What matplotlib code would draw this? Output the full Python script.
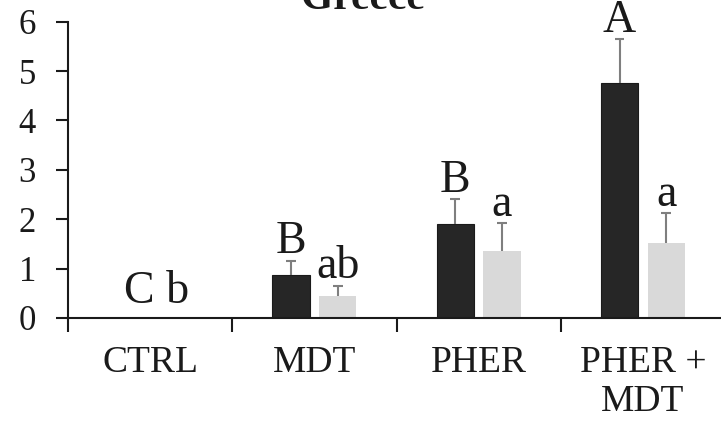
import numpy as np
import matplotlib
matplotlib.use("Agg")
import matplotlib.pyplot as plt

# Data
categories = ["CTRL", "MDT", "PHER", "PHER +\nMDT"]
dark_means = [0.0, 0.88, 1.90, 4.75]
dark_err = [0.0, 0.28, 0.51, 0.89]
light_means = [0.0, 0.44, 1.36, 1.52]
light_err = [0.0, 0.21, 0.56, 0.60]
dark_letters = ["", "B", "B", "A"]
light_letters = ["", "ab", "a", "a"]
ctrl_letters = "C b"

plt.rcParams["font.family"] = ["Liberation Serif", "DejaVu Serif"]

fig = plt.figure(figsize=(7.21, 4.26), dpi=100)
ax = fig.add_axes([68 / 721, 108 / 426, 657 / 721, 296.3 / 426])

x = np.arange(len(categories))
w = 0.227
off = 0.142
cap = 0.03

ax.bar(x - off, dark_means, w, color="#262626", edgecolor="#1a1a1a",
       linewidth=0.8, zorder=2)
ax.bar(x + off, light_means, w, color="#d9d9d9", linewidth=0, zorder=2)

# upper-only error bars with a cap on top
for pos, m, e in zip(np.r_[x - off, x + off], dark_means + light_means,
                     dark_err + light_err):
    if e > 0:
        ax.vlines(pos, m, m + e, color="#7f7f7f", linewidth=1.5, zorder=3)
        ax.hlines(m + e, pos - cap, pos + cap, color="#7f7f7f", linewidth=1.5,
                  zorder=3)

# significance letters
for i in range(len(categories)):
    if dark_letters[i]:
        ax.text(x[i] - off, dark_means[i] + dark_err[i] + 0.15, dark_letters[i],
                ha="center", va="baseline", fontsize=33, color="#1a1a1a")
    if light_letters[i]:
        ax.text(x[i] + off, light_means[i] + light_err[i] + 0.15, light_letters[i],
                ha="center", va="baseline", fontsize=33, color="#1a1a1a")
ax.text(x[0] + 0.04, 0.31, ctrl_letters, ha="center", va="baseline",
        fontsize=33, color="#1a1a1a")

ax.set_xlim(-0.5, 3.5)
ax.set_ylim(0, 6)
ax.set_yticks(range(7))
ax.tick_params(axis="y", labelsize=25, length=9, width=1.5, pad=14,
               direction="out", colors="#1a1a1a")

# ticks between the groups, labels under each group
ax.set_xticks(np.arange(-0.5, 3.6, 1.0))
ax.set_xticklabels([])
ax.tick_params(axis="x", which="major", length=10, width=1.5, direction="out",
               colors="#1a1a1a")
ax.set_xticks(x, minor=True)
ax.set_xticklabels(categories, minor=True, fontsize=27, linespacing=1.15)
ax.tick_params(axis="x", which="minor", length=0, pad=20, colors="#1a1a1a")

for s in ["top", "right"]:
    ax.spines[s].set_visible(False)
for s in ["left", "bottom"]:
    ax.spines[s].set_linewidth(1.5)
    ax.spines[s].set_color("#1a1a1a")

fig.text(0.503, 1 - 9 / 426, "Greece", ha="center", va="baseline",
         fontsize=30, fontweight="bold", color="#1a1a1a")

fig.savefig("out.png", dpi=100)
